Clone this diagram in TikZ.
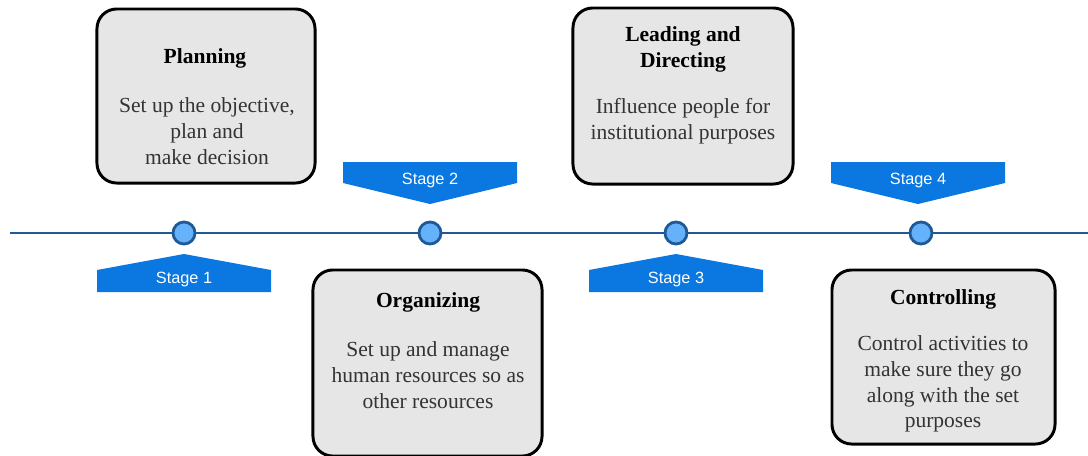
\documentclass[tikz,border=0pt]{standalone}
\usepackage{fontspec}
\setmainfont{Liberation Serif}
\newfontfamily\stagefont{Liberation Sans}
\usetikzlibrary{positioning}

\definecolor{boxgray}{HTML}{E6E6E6}
\definecolor{bannerblue}{HTML}{0A78E0}
\definecolor{dotblue}{HTML}{66B2FA}
\definecolor{lineblue}{HTML}{1F5A96}
\definecolor{bodygray}{HTML}{333333}

\begin{document}
\begin{tikzpicture}[x=0.025cm,y=-0.025cm,
  phase/.style={draw=black,line width=2.1pt,fill=boxgray,rounded corners=14pt,inner sep=0pt},
  phasetitle/.style={font=\fontsize{15.3}{18.5}\selectfont\bfseries,align=center,inner sep=0pt},
  phasetext/.style={font=\fontsize{15.3}{18.3}\selectfont,text=bodygray,align=center,inner sep=0pt},
  dot/.style={circle,draw=lineblue,fill=dotblue,line width=2pt,minimum size=0.55cm,inner sep=0pt},
  banner/.style={fill=bannerblue},
  stagelabel/.style={font=\stagefont\fontsize{11.6}{13}\selectfont,text=white,inner sep=0pt}]

  \useasboundingbox (0,0) rectangle (1088,455);

  % timeline
  \coordinate (tl start) at (10,233);
  \coordinate (tl end) at (1088,233);
  \draw[lineblue,line width=1.4pt] (tl start) -- (tl end);
  \foreach \x/\n in {184/1,430/2,676/3,921/4} {
    \node[dot] (d\n) at (\x,233) {};
  }

  % stage banners
  \foreach \x/\n in {184/1,676/3} {
    \fill[banner] (\x-87,292) -- (\x-87,270) -- (\x,254) -- (\x+87,270) -- (\x+87,292) -- cycle;
    \node[stagelabel] (s\n) at (\x,279) {Stage \n};
  }
  \foreach \x/\n in {430/2,918/4} {
    \fill[banner] (\x-87,162) -- (\x+87,162) -- (\x+87,183) -- (\x,204) -- (\x-87,183) -- cycle;
    \node[stagelabel] (s\n) at (\x,180) {Stage \n};
  }

  % planning
  \node[phase,minimum width=5.45cm,minimum height=4.35cm] (plan) at (206,96) {};
  \node[phasetitle] (plan title) at (205,58) {Planning};
  \node[phasetext] (plan text) at (207,131) {Set up the objective,\\plan and\\make decision};

  % organizing
  \node[phase,minimum width=5.725cm,minimum height=4.65cm] (org) at (427.5,363) {};
  \node[phasetitle] (org title) at (428,302) {Organizing};
  \node[phasetext] (org text) at (428,375) {Set up and manage\\human resources so as\\other resources};

  % leading and directing
  \node[phase,minimum width=5.5cm,minimum height=4.4cm] (lead) at (683,96) {};
  \node[phasetitle] (lead title) at (683,49) {Leading and\\Directing};
  \node[phasetext] (lead text) at (683,121) {Influence people for\\institutional purposes};

  % controlling
  \node[phase,minimum width=5.575cm,minimum height=4.35cm] (ctrl) at (943.5,357) {};
  \node[phasetitle] (ctrl title) at (943,299) {Controlling};
  \node[phasetext] (ctrl text) at (943,384) {Control activities to\\make sure they go\\along with the set\\purposes};

\end{tikzpicture}
\end{document}
